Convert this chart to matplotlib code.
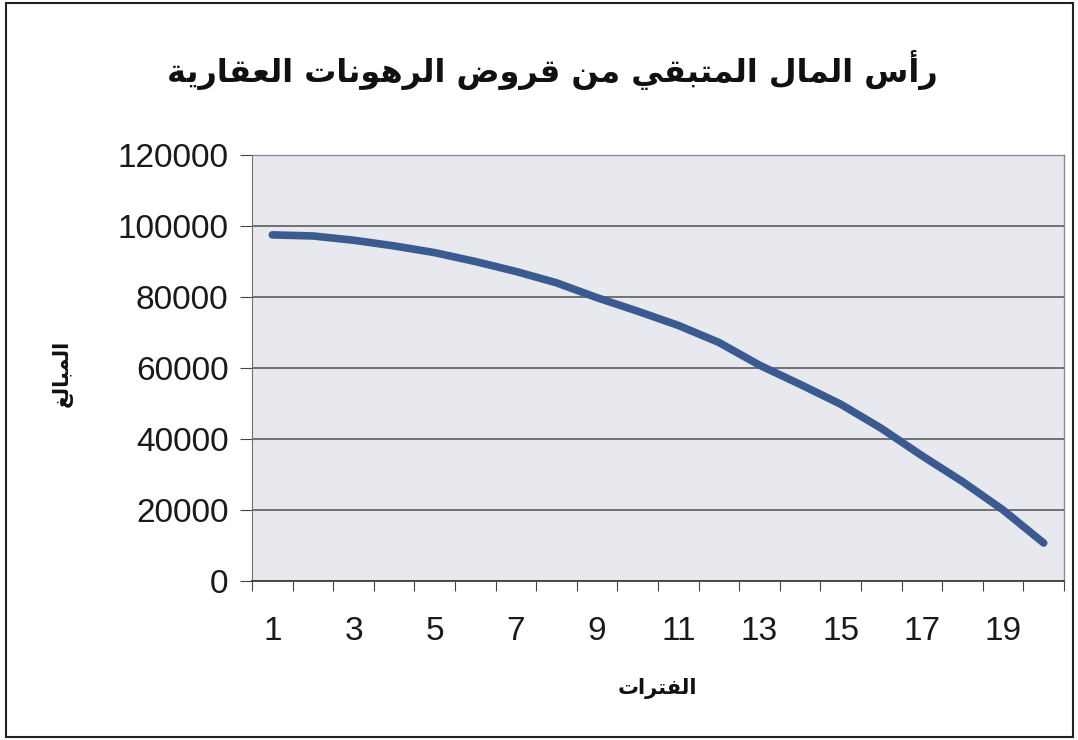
import matplotlib
matplotlib.use("Agg")
import matplotlib.pyplot as plt
from matplotlib.patches import Rectangle
import numpy as np

# remaining principal
periods = list(range(1, 21))
balance = [97500, 97200, 96000, 94400, 92500, 90000, 87200, 84000, 79800, 76000,
           72000, 67200, 60800, 55400, 49800, 43000, 35300, 28000, 20000, 10700]

title_txt = "رأس المال المتبقي من قروض الرهونات العقارية"
xlabel_txt = "الفترات"
ylabel_txt = "المبالغ"

yticks = [0, 20000, 40000, 60000, 80000, 100000, 120000]
xtick_labels = [str(p) for p in periods[::2]]

# matplotlib has no arabic shaping, so pick presentation forms by hand
# (isolated, final, initial, medial)
FORMS = {
    'ا': ('\uFE8D', '\uFE8E', None, None),
    'أ': ('\uFE83', '\uFE84', None, None),
    'ب': ('\uFE8F', '\uFE90', '\uFE91', '\uFE92'),
    'ة': ('\uFE93', '\uFE94', None, None),
    'ت': ('\uFE95', '\uFE96', '\uFE97', '\uFE98'),
    'ر': ('\uFEAD', '\uFEAE', None, None),
    'س': ('\uFEB1', '\uFEB2', '\uFEB3', '\uFEB4'),
    'ض': ('\uFEBD', '\uFEBE', '\uFEBF', '\uFEC0'),
    'ع': ('\uFEC9', '\uFECA', '\uFECB', '\uFECC'),
    'غ': ('\uFECD', '\uFECE', '\uFECF', '\uFED0'),
    'ف': ('\uFED1', '\uFED2', '\uFED3', '\uFED4'),
    'ق': ('\uFED5', '\uFED6', '\uFED7', '\uFED8'),
    'ل': ('\uFEDD', '\uFEDE', '\uFEDF', '\uFEE0'),
    'م': ('\uFEE1', '\uFEE2', '\uFEE3', '\uFEE4'),
    'ن': ('\uFEE5', '\uFEE6', '\uFEE7', '\uFEE8'),
    'ه': ('\uFEE9', '\uFEEA', '\uFEEB', '\uFEEC'),
    'و': ('\uFEED', '\uFEEE', None, None),
    'ي': ('\uFEF1', '\uFEF2', '\uFEF3', '\uFEF4'),
}


def shape(text):
    out = []
    n = len(text)
    for i, ch in enumerate(text):
        if ch not in FORMS:
            out.append(ch)
            continue
        f = FORMS[ch]
        prev_joins = i > 0 and text[i - 1] in FORMS and FORMS[text[i - 1]][2] is not None
        next_joins = i < n - 1 and text[i + 1] in FORMS and f[2] is not None
        if prev_joins and next_joins:
            out.append(f[3])
        elif prev_joins:
            out.append(f[1])
        elif next_joins:
            out.append(f[2])
        else:
            out.append(f[0])
    return "".join(out)[::-1]


plt.rcParams['font.family'] = ['Liberation Sans', 'DejaVu Sans']

fig = plt.figure(figsize=(10.78, 7.40), dpi=100)
fig.patch.set_facecolor("white")
fig.patches.append(Rectangle((0.006, 0.004), 0.989, 0.992, transform=fig.transFigure,
                             fill=False, edgecolor="#222222", linewidth=1.5))

ax = fig.add_axes([0.2338, 0.2149, 0.7532, 0.5756])
ax.set_facecolor("#E8E8EF")

# thin trendline behind the series
coef = np.polyfit(periods, balance, 2)
xs = np.linspace(1, 20, 100)
ax.plot(xs, np.polyval(coef, xs), color="#B8A8B0", linewidth=0.8, zorder=2)
ax.plot(periods, balance, color="#3A5A90", linewidth=5.5, solid_capstyle="round",
        solid_joinstyle="round", zorder=3)

ax.set_xlim(0.5, 20.5)
ax.set_ylim(0, 120000)
ax.set_yticks(yticks)
ax.set_yticklabels([str(v) for v in yticks])
ax.yaxis.grid(True, color="#505050", linewidth=1.1)
ax.set_axisbelow(True)

# category axis: ticks between categories, labels on odd periods
ax.set_xticks(np.arange(0.5, 21, 1))
ax.set_xticklabels([])
ax.set_xticks(periods[::2], minor=True)
ax.set_xticklabels(xtick_labels, minor=True)
ax.tick_params(axis='x', which='major', direction='out', length=7, color="#444444")
ax.tick_params(axis='x', which='minor', length=0, pad=25, labelsize=24, labelcolor="#1a1a1a")
ax.tick_params(axis='y', direction='out', length=9, color="#444444", pad=8,
               labelsize=24, labelcolor="#1a1a1a")

for side in ['top', 'right']:
    ax.spines[side].set_color("#8a8a96")
    ax.spines[side].set_linewidth(1)
ax.spines['left'].set_color("#707070")
ax.spines['bottom'].set_color("#404040")
ax.spines['bottom'].set_linewidth(1.3)

fig.text(0.512, 0.905, shape(title_txt), ha="center", va="center", fontsize=23,
         fontweight="bold", family=['DejaVu Sans'], color="#111111")
fig.text(0.61, 0.07, shape(xlabel_txt), ha="center", va="center", fontsize=15,
         fontweight="bold", family=['DejaVu Sans'], color="#111111")
fig.text(0.058, 0.495, shape(ylabel_txt), ha="center", va="center", fontsize=15,
         fontweight="bold", family=['DejaVu Sans'], rotation=90, color="#111111")

fig.savefig("out.png", dpi=100)
